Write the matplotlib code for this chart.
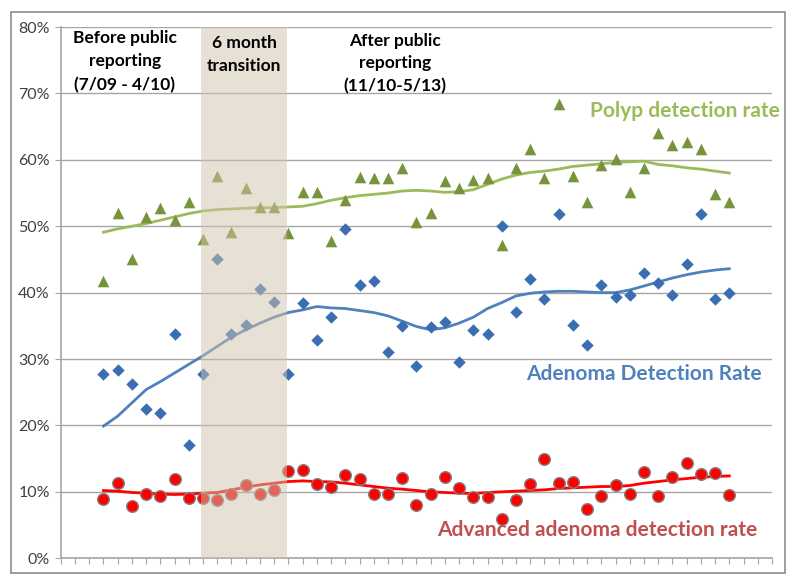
import matplotlib
matplotlib.use("Agg")
import matplotlib.pyplot as plt
from matplotlib.patches import Rectangle

plt.rcParams['font.family'] = ['Lato', 'DejaVu Sans']

# month index on the x axis (axis runs 0..50, data starts at 3)
months = list(range(3, 48))

polyp = [41.7, 52.0, 45.1, 51.4, 52.8, 50.9, 53.6, 48.1, 57.5, 49.1,
         55.7, 52.9, 52.9, 49.0, 55.1, 55.2, 47.7, 54.0, 57.4, 57.2,
         57.2, 58.7, 50.7, 52.0, 56.8, 55.8, 57.0, 57.2, 47.2, 58.7,
         61.7, 57.2, 68.4, 57.5, 53.6, 59.2, 60.1, 55.1, 58.7, 64.1,
         62.2, 62.7, 61.7, 54.8, 53.6]
polyp_trend = [49.1, 49.6, 50.0, 50.4, 50.9, 51.4, 51.9, 52.3, 52.5, 52.6,
               52.7, 52.8, 52.8, 52.9, 53.0, 53.4, 53.9, 54.3, 54.6, 54.8,
               55.0, 55.3, 55.4, 55.3, 55.1, 55.2, 55.5, 56.3, 57.1, 57.7,
               58.1, 58.3, 58.6, 59.0, 59.2, 59.4, 59.6, 59.7, 59.8, 59.3,
               59.1, 58.8, 58.6, 58.3, 58.0]

adenoma = [27.8, 28.4, 26.3, 22.5, 21.8, 33.8, 17.0, 27.8, 45.1, 33.8,
           35.1, 40.6, 38.6, 27.7, 38.5, 32.8, 36.3, 49.6, 41.1, 41.7,
           31.1, 35.0, 28.9, 34.8, 35.6, 29.5, 34.3, 33.8, 50.0, 37.1,
           42.1, 39.0, 51.9, 35.1, 32.1, 41.1, 39.4, 39.6, 42.9, 41.5,
           39.6, 44.3, 51.8, 39.1, 40.0]
adenoma_trend = [19.9, 21.4, 23.4, 25.4, 26.6, 27.9, 29.2, 30.5, 31.9, 33.3,
                 34.4, 35.4, 36.3, 37.0, 37.4, 37.9, 37.7, 37.6, 37.3, 37.0,
                 36.5, 35.7, 34.9, 34.4, 34.7, 35.4, 36.3, 37.6, 38.5, 39.5,
                 39.9, 40.1, 40.2, 40.2, 40.1, 40.0, 40.0, 40.4, 41.0, 41.6,
                 42.2, 42.7, 43.1, 43.4, 43.6]

advanced = [8.9, 11.3, 7.9, 9.6, 9.3, 12.0, 9.0, 9.1, 8.8, 9.7,
            11.1, 9.7, 10.3, 13.2, 13.3, 11.2, 10.8, 12.6, 12.0, 9.7,
            9.6, 12.1, 8.0, 9.7, 12.3, 10.6, 9.2, 9.2, 5.9, 8.7,
            11.2, 14.9, 11.3, 11.5, 7.4, 9.3, 11.1, 9.7, 13.0, 9.3,
            12.3, 14.4, 12.7, 12.8, 9.5]
advanced_trend = [10.2, 10.1, 9.9, 9.8, 9.65, 9.6, 9.65, 9.8, 9.9, 10.3,
                  10.7, 11.05, 11.3, 11.55, 11.65, 11.55, 11.5, 11.3, 11.05, 10.8,
                  10.55, 10.4, 10.2, 10.0, 9.9, 9.8, 9.75, 9.9, 10.0, 10.1,
                  10.2, 10.3, 10.5, 10.6, 10.7, 10.8, 10.8, 10.95, 11.3, 11.55,
                  11.8, 12.0, 12.2, 12.3, 12.4]

transition = (9.85, 15.9)

fig = plt.figure(figsize=(8, 5.87), dpi=100)
ax = fig.add_axes([0.076, 0.049, 0.889, 0.905])

# outer chart frame
fig.patches.append(Rectangle((11 / 800, 14 / 587), 774 / 800, 561 / 587,
                             transform=fig.transFigure, fill=False,
                             edgecolor='#8c8c8c', linewidth=1.2))

ax.plot(months, polyp_trend, color='#9BBB59', lw=2, zorder=3)
ax.plot(months, adenoma_trend, color='#4F81BD', lw=2, zorder=3)
ax.plot(months, advanced_trend, color='#FF0000', lw=2, zorder=3)

ax.scatter(months, polyp, marker='^', s=70, color='#77933C', zorder=4, linewidths=0)
ax.scatter(months, adenoma, marker='D', s=40, color='#3B6EB0', zorder=4, linewidths=0)
ax.scatter(months, advanced, marker='o', s=70, color='#FF0000',
           edgecolors='#7f7f7f', linewidths=1.0, zorder=4)

ax.axvspan(transition[0], transition[1], color='#D1C5AD', alpha=0.5, lw=0, zorder=5)

ax.set_xlim(0, 50)
ax.set_ylim(0, 80)
ax.set_yticks(range(0, 81, 10))
ax.set_yticklabels([f'{v}%' for v in range(0, 81, 10)], fontsize=11.5, color='#404040')
ax.set_xticks(range(0, 51))
ax.set_xticklabels([])
ax.tick_params(axis='x', length=4, color='#a6a6a6', direction='out')
ax.tick_params(axis='y', length=4, color='#a6a6a6', direction='out', pad=4)
ax.grid(axis='y', color='#a6a6a6', lw=1)
ax.set_axisbelow(True)
for s in ['top', 'right']:
    ax.spines[s].set_visible(False)
for s in ['left', 'bottom']:
    ax.spines[s].set_color('#a6a6a6')
    ax.spines[s].set_linewidth(1.2)

ax.text(4.5, 79.5, 'Before public\nreporting\n(7/09 - 4/10)', ha='center', va='top',
        fontsize=12.5, fontweight='bold', linespacing=1.55, color='black', zorder=6)
ax.text(12.9, 78.8, '6 month\ntransition', ha='center', va='top',
        fontsize=12.5, fontweight='bold', linespacing=1.55, color='black', zorder=6)
ax.text(23.5, 79.1, 'After public\nreporting\n(11/10-5/13)', ha='center', va='top',
        fontsize=12.5, fontweight='bold', linespacing=1.5, color='black', zorder=6)

ax.text(43.9, 67.3, 'Polyp detection rate', ha='center', va='center',
        fontsize=15, fontweight='bold', color='#9BBB59', clip_on=False)
ax.text(41.0, 27.7, 'Adenoma Detection Rate', ha='center', va='center',
        fontsize=15, fontweight='bold', color='#4F81BD')
ax.text(37.7, 4.3, 'Advanced adenoma detection rate', ha='center', va='center',
        fontsize=15, fontweight='bold', color='#C0504D')

fig.savefig('out.png', dpi=100)
